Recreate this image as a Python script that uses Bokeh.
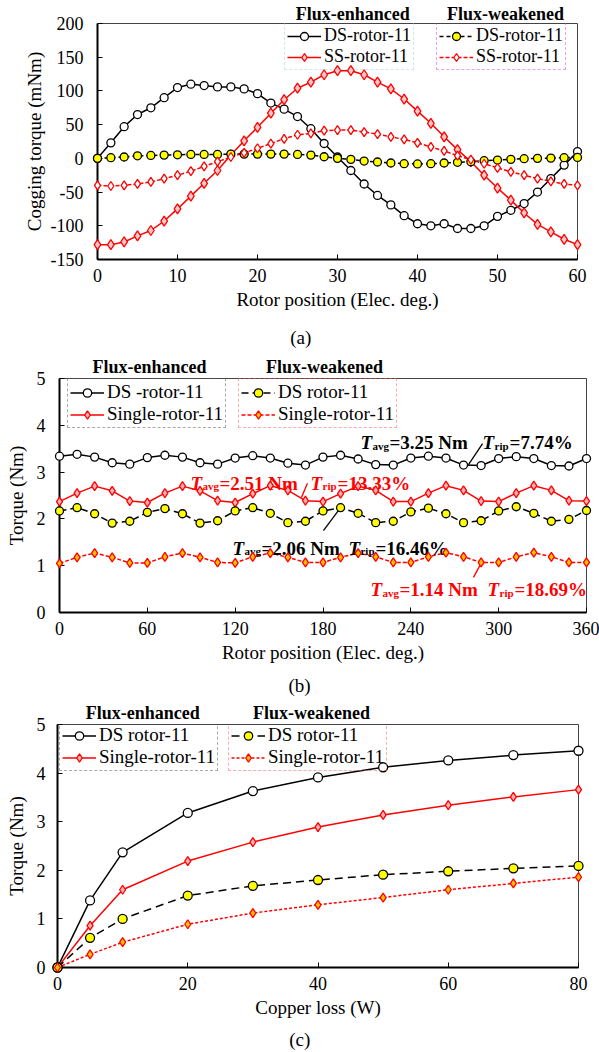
from bokeh.plotting import figure
from bokeh.models import Range1d, FixedTicker, Legend, LegendItem, Label, LinearAxis
from bokeh.embed import file_html
from bokeh.resources import INLINE

FONT = "Liberation Serif"

# ---------------- data (a) cogging torque ----------------
pos_a = [0, 1.67, 3.33, 5, 6.67, 8.33, 10, 11.67, 13.33, 15, 16.67, 18.33, 20, 21.67, 23.33, 25,
         26.67, 28.33, 30, 31.67, 33.33, 35, 36.67, 38.33, 40, 41.67, 43.33, 45, 46.67, 48.33,
         50, 51.67, 53.33, 55, 56.67, 58.33, 60]
ds_enh_a = [0, 23, 47, 65, 75, 90, 105, 110, 108, 106, 106, 103, 96, 82, 73, 62, 44, 22, 2, -18,
            -38, -55, -69, -85, -97, -100, -97, -104, -104, -100, -86, -77, -67, -50, -30, -10, 10]
ss_enh_a = [-128, -128, -124, -115, -107, -93, -75, -56, -37, -18, 5, 26, 46, 67, 87, 104, 113, 124,
            130, 130, 124, 113, 103, 88, 70, 52, 32, 13, -5, -25, -44, -62, -81, -98, -109, -120, -128]
ds_weak_a = [0, 1, 2, 3.8, 4.3, 4.8, 5.3, 5.8, 5.8, 5.8, 6.3, 6.3, 6.3, 6.3, 6.3, 5.8, 4.8, 2.4, 0,
             -1.5, -4, -5.4, -6.9, -7.9, -8.3, -7.9, -6.9, -5.9, -5, -3.5, -2.5, -1.5, -0.5, 0, 0.4, 1, 1.4]
ss_weak_a = [-40, -41, -40, -38, -35, -30, -25, -19, -12, -5, 2, 8, 15, 22, 29, 35, 37, 41, 42, 42,
             39, 36, 32, 28, 23, 17, 11, 4, -2, -8, -14, -20, -25, -30, -34, -38, -40]
xticks_a = [0, 10, 20, 30, 40, 50, 60]
yticks_a = [-150, -100, -50, 0, 50, 100, 150, 200]

# ---------------- data (b) torque waveform ----------------
pos_b = [0, 12, 24, 36, 48, 60, 72, 84, 96, 108, 120, 132, 144, 156, 168, 180, 192, 204, 216, 228,
         240, 252, 264, 276, 288, 300, 312, 324, 336, 348, 360]
ds_enh_b = [3.34, 3.38, 3.32, 3.20, 3.17, 3.31, 3.36, 3.32, 3.20, 3.17, 3.30, 3.35, 3.30, 3.19, 3.15,
            3.32, 3.36, 3.28, 3.16, 3.15, 3.30, 3.34, 3.30, 3.15, 3.14, 3.29, 3.33, 3.29, 3.14, 3.13, 3.29]
single_enh_b = [2.37, 2.55, 2.70, 2.60, 2.38, 2.35, 2.55, 2.70, 2.60, 2.39, 2.35, 2.54, 2.71, 2.61, 2.39,
                2.37, 2.54, 2.70, 2.61, 2.37, 2.37, 2.55, 2.71, 2.61, 2.38, 2.37, 2.55, 2.71, 2.61, 2.39, 2.38]
ds_weak_b = [2.17, 2.24, 2.11, 1.91, 1.95, 2.14, 2.22, 2.11, 1.91, 1.96, 2.17, 2.24, 2.12, 1.92, 1.95,
             2.17, 2.24, 2.12, 1.92, 1.95, 2.15, 2.23, 2.11, 1.92, 1.96, 2.17, 2.26, 2.12, 1.95, 1.99, 2.18]
single_weak_b = [1.05, 1.18, 1.27, 1.18, 1.06, 1.06, 1.19, 1.27, 1.18, 1.07, 1.06, 1.19, 1.27, 1.18, 1.07,
                 1.07, 1.18, 1.27, 1.19, 1.07, 1.07, 1.19, 1.28, 1.19, 1.07, 1.07, 1.19, 1.28, 1.19, 1.07, 1.07]
xticks_b = [0, 60, 120, 180, 240, 300, 360]
yticks_b = [0, 1, 2, 3, 4, 5]

# annotations of (b): (subscript, rest, x, y, color)
ann_b = [
    ("avg", "=3.25 Nm", 205.6, 3.63, "black"),
    ("rip", "=7.74%", 289.0, 3.63, "black"),
    ("avg", "=2.51 Nm", 89.5, 2.76, "red"),
    ("rip", "=13.33%", 171.5, 2.76, "red"),
    ("avg", "=2.06 Nm", 118.2, 1.37, "black"),
    ("rip", "=16.46%", 197.4, 1.37, "black"),
    ("avg", "=1.14 Nm", 212.4, 0.49, "red"),
    ("rip", "=18.69%", 292.4, 0.49, "red"),
]
# leader lines of (b): (x0, y0, x1, y1, color)
leaders_b = [
    (289.0, 3.61, 279.4, 3.16, "black"),
    (169.4, 2.76, 165.3, 2.46, "red"),
    (180.3, 1.75, 192.0, 2.24, "black"),
    (282.8, 0.75, 288.3, 1.07, "red"),
]

# ---------------- data (c) torque vs copper loss ----------------
loss_c = [0, 5, 10, 20, 30, 40, 50, 60, 70, 80]
ds_enh_c = [0, 1.38, 2.37, 3.18, 3.63, 3.91, 4.12, 4.26, 4.37, 4.46]
single_enh_c = [0, 0.86, 1.60, 2.19, 2.58, 2.89, 3.14, 3.34, 3.51, 3.66]
ds_weak_c = [0, 0.61, 1.00, 1.48, 1.68, 1.80, 1.91, 1.98, 2.04, 2.09]
single_weak_c = [0, 0.27, 0.52, 0.89, 1.12, 1.29, 1.44, 1.60, 1.73, 1.86]
xticks_c = [0, 20, 40, 60, 80]
yticks_c = [0, 1, 2, 3, 4, 5]

# group headers and panel captions (text, x position in data units)
headers_a = {31.9: "Flux-enhanced", 51: "Flux-weakened"}
headers_b = {61.5: "Flux-enhanced", 181: "Flux-weakened"}
headers_c = {13.1: "Flux-enhanced", 39: "Flux-weakened"}
caption_a = {25.4: "(a)"}
caption_b = {164: "(b)"}
caption_c = {37.2: "(c)"}


def make_fig(width, height, bl, br, bt, bb, xr, yr, xt, yt, xlabel, ylabel, ylab_standoff, ytick_standoff):
    p = figure(width=width, height=height, min_border_left=bl, min_border_right=br,
               min_border_top=bt, min_border_bottom=bb, x_range=Range1d(*xr), y_range=Range1d(*yr),
               output_backend="svg", toolbar_location=None)
    p.grid.visible = False
    p.outline_line_color = "#444444"
    p.outline_line_width = 1
    p.background_fill_color = "white"
    p.border_fill_color = "white"
    p.xaxis.ticker = FixedTicker(ticks=xt)
    p.yaxis.ticker = FixedTicker(ticks=yt)
    for ax in (p.xaxis, p.yaxis):
        ax.axis_line_width = 2
        ax.axis_line_color = "black"
        ax.major_tick_in = 5
        ax.major_tick_out = 0
        ax.major_tick_line_color = "black"
        ax.minor_tick_line_color = None
        ax.major_label_text_font = FONT
        ax.major_label_text_font_size = "18px"
        ax.major_label_text_color = "black"
        ax.axis_label_text_font = FONT
        ax.axis_label_text_font_size = "19px"
        ax.axis_label_text_font_style = "normal"
        ax.axis_label_text_color = "black"
    p.yaxis.major_label_overrides = {t: str(t) for t in yt}
    p.xaxis.axis_label = xlabel
    p.yaxis.axis_label = ylabel
    p.xaxis.major_label_standoff = 9
    p.xaxis.axis_label_standoff = 4
    p.yaxis.major_label_standoff = ytick_standoff
    p.yaxis.axis_label_standoff = ylab_standoff
    return p


def text_axis(p, labels, side, size, style, standoff):
    ax = LinearAxis(ticker=FixedTicker(ticks=list(labels.keys())), major_label_overrides=labels,
                    axis_line_color=None, major_tick_line_color=None, minor_tick_line_color=None,
                    major_tick_in=0, major_tick_out=0, major_label_standoff=standoff,
                    major_label_text_font=FONT, major_label_text_font_size=size,
                    major_label_text_font_style=style, major_label_text_color="black")
    p.add_layout(ax, side)


def series(p, x, y, color, dash, marker, size, fill, mline="black"):
    lr = p.line(x, y, line_color=color, line_width=1.5, line_dash=dash)
    sr = p.scatter(x, y, marker=marker, size=size, fill_color=fill, line_color=mline, line_width=1.3)
    sr.level = "overlay"
    return [lr, sr]


def add_legend(p, items, loc, border_color, fs, row_h):
    lg = Legend(items=[LegendItem(label=t, renderers=r) for t, r in items], location=loc,
                orientation="vertical", margin=0, padding=2, spacing=0,
                glyph_width=34, glyph_height=row_h, label_height=row_h, label_standoff=3,
                label_text_font=FONT, label_text_font_size=fs, label_text_color="black",
                border_line_color=border_color, border_line_dash="4 3", border_line_width=1,
                background_fill_alpha=0.0)
    p.add_layout(lg)


# ================= (a) =================
pa = make_fig(599, 352, 97, 22, 20, 93, (0, 60), (-150, 200), xticks_a, yticks_a,
              "Rotor position (Elec. deg.)", "Cogging torque (mNm)", 3, 14)
r1 = series(pa, pos_a, ds_enh_a, "black", "solid", "circle", 8, "white")
r2 = series(pa, pos_a, ss_enh_a, "red", "solid", "diamond", 10, "#ffc8c8", "red")
r3 = series(pa, pos_a, ds_weak_a, "black", "4 3", "circle", 8, "#ffff00")
r4 = series(pa, pos_a, ss_weak_a, "red", "4 2", "diamond", 9, "white", "red")
add_legend(pa, [("DS-rotor-11", r1), ("SS-rotor-11", r2)], (187, 189), "#9fd3df", "18px", 20)
add_legend(pa, [("DS-rotor-11", r3), ("SS-rotor-11", r4)], (339, 189), "#e040e0", "18px", 20)
text_axis(pa, headers_a, "above", "18px", "bold", 0)
text_axis(pa, caption_a, "below", "19px", "normal", 14)

# ================= (b) =================
pb = make_fig(599, 346, 59, 13, 26, 86, (0, 360), (0, 5), xticks_b, yticks_b,
              "Rotor position (Elec. deg.)", "Torque (Nm)", 7, 14)
q1 = series(pb, pos_b, ds_enh_b, "black", "solid", "circle", 8, "white")
q2 = series(pb, pos_b, single_enh_b, "red", "solid", "diamond", 9, "#ffb0b0", "red")
q3 = series(pb, pos_b, ds_weak_b, "black", "7 4", "circle", 8, "#ffff00")
q4 = series(pb, pos_b, single_weak_b, "red", "4 2", "diamond", 9, "#ffc000", "red")
add_legend(pb, [("DS -rotor-11", q1), ("Single-rotor-11", q2)], (8, 184), "#555555", "19px", 21)
add_legend(pb, [("DS rotor-11", q3), ("Single-rotor-11", q4)], (179, 184), "#ff5a5a", "19px", 21)
text_axis(pb, headers_b, "above", "18px", "bold", 2)
text_axis(pb, caption_b, "below", "19px", "normal", 9)
for sub, rest, x, y, c in ann_b:
    pb.add_layout(Label(x=x, y=y, text="T", text_font=FONT, text_font_size="19px",
                        text_font_style="bold italic", text_color=c, text_baseline="alphabetic"))
    pb.add_layout(Label(x=x, y=y, x_offset=12, y_offset=-3, text=sub, text_font=FONT,
                        text_font_size="11px", text_font_style="bold", text_color=c,
                        text_baseline="alphabetic"))
    pb.add_layout(Label(x=x, y=y, x_offset=12 + (17 if sub == "avg" else 15), text=rest,
                        text_font=FONT, text_font_size="19px", text_font_style="bold",
                        text_color=c, text_baseline="alphabetic"))
for x0, y0, x1, y1, c in leaders_b:
    pb.segment(x0=[x0], y0=[y0], x1=[x1], y1=[y1], line_color=c, line_width=1.3)

# ================= (c) =================
pc = make_fig(599, 354, 57, 21, 26, 85, (0, 80), (0, 5), xticks_c, yticks_c,
              "Copper loss (W)", "Torque (Nm)", 7, 12)
s1 = series(pc, loss_c, ds_enh_c, "black", "solid", "circle", 9, "white")
s2 = series(pc, loss_c, single_enh_c, "red", "solid", "diamond", 9, "#ffb0b0", "red")
s3 = series(pc, loss_c, ds_weak_c, "black", "8 5", "circle", 9, "#ffff00")
s4 = series(pc, loss_c, single_weak_c, "red", "3 2", "diamond", 9, "#ffc000", "red")
add_legend(pc, [("DS rotor-11", s1), ("Single-rotor-11", s2)], (2, 196), "#555555", "19px", 21)
add_legend(pc, [("DS rotor-11", s3), ("Single-rotor-11", s4)], (171, 196), "#ff5a5a", "19px", 21)
text_axis(pc, headers_c, "above", "18px", "bold", 2)
text_axis(pc, caption_c, "below", "19px", "normal", 8)

open("out.html", "w").write(file_html([pa, pb, pc], INLINE))
